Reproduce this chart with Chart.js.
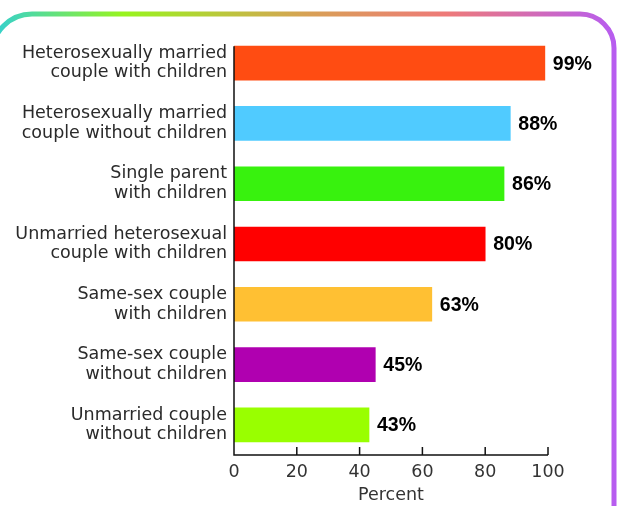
<!DOCTYPE html>
<html>
<head>
<meta charset="utf-8">
<script src="https://cdn.jsdelivr.net/npm/chart.js@4"></script>
<style>
  html, body { margin: 0; padding: 0; background: #fff; }
  #wrap { width: 618px; height: 506px; position: relative; }
</style>
</head>
<body>
<div id="wrap"><canvas id="chart" width="618" height="506"></canvas></div>
<script>
// data
let categories = [
    ['Heterosexually married', 'couple with children'],
    ['Heterosexually married', 'couple without children'],
    ['Single parent', 'with children'],
    ['Unmarried heterosexual', 'couple with children'],
    ['Same-sex couple', 'with children'],
    ['Same-sex couple', 'without children'],
    ['Unmarried couple', 'without children']
];
let percents = [99, 88, 86, 80, 63, 45, 43];
let barColors = ['#ff4c12', '#50cbff', '#38f20e', '#ff0000', '#ffc033', '#b000b0', '#99ff00'];
let xTicks = [0, 20, 40, 60, 80, 100];

const FONT = '"DejaVu Sans", "Liberation Sans", Arial, sans-serif';
const BOLD_FONT = '"Liberation Sans", Arial, sans-serif';

// gradient frame round the figure
const framePlugin = {
    id: 'frame',
    beforeDraw(chart) {
        const ctx = chart.ctx;
        const g = ctx.createLinearGradient(0, 0, 618, 0);
        g.addColorStop(0, '#38d2c8');
        g.addColorStop(0.2, '#98f41e');
        g.addColorStop(0.5, '#d8a055');
        g.addColorStop(0.72, '#ee7a78');
        g.addColorStop(1, '#b65cf2');
        ctx.save();
        ctx.strokeStyle = g;
        ctx.lineWidth = 5;
        const L = -8, T = 14, R = 614, rl = 40, rr = 34;
        ctx.beginPath();
        ctx.moveTo(L, 520);
        ctx.lineTo(L, T + rl);
        ctx.arcTo(L, T, L + rl, T, rl);
        ctx.lineTo(R - rr, T);
        ctx.arcTo(R, T, R, T + rr, rr);
        ctx.lineTo(R, 520);
        ctx.stroke();
        ctx.restore();
    }
};

// axis lines, inward ticks and value labels
const decoPlugin = {
    id: 'deco',
    afterDraw(chart) {
        const ctx = chart.ctx;
        const area = chart.chartArea;
        const xs = chart.scales.x;
        const bars = chart.getDatasetMeta(0).data;
        ctx.save();
        ctx.strokeStyle = '#111';
        ctx.lineWidth = 1.5;
        ctx.beginPath();
        ctx.moveTo(area.left, bars[0].y - bars[0].height / 2);
        ctx.lineTo(area.left, area.bottom);
        ctx.lineTo(xs.getPixelForValue(100), area.bottom);
        xTicks.forEach(function(t){
            const px = xs.getPixelForValue(t);
            ctx.moveTo(px, area.bottom);
            ctx.lineTo(px, area.bottom - 8);
        });
        ctx.stroke();

        ctx.fillStyle = '#000';
        ctx.font = 'bold 19.5px ' + BOLD_FONT;
        ctx.textAlign = 'left';
        ctx.textBaseline = 'middle';
        bars.forEach(function(b, i){
            ctx.fillText(percents[i] + '%', b.x + 8, b.y + 1);
        });
        ctx.restore();
    }
};

let ctx = document.getElementById('chart').getContext('2d');
window.chart = new Chart(ctx, {
    type: 'bar',
    data: {
        labels: categories,
        datasets: [{
            data: percents,
            backgroundColor: barColors,
            barThickness: 34
        }]
    },
    options: {
        indexAxis: 'y',
        responsive: false,
        animation: false,
        layout: { padding: { top: 33, right: 70, left: 0, bottom: 0 } },
        plugins: {
            legend: { display: false },
            tooltip: { enabled: false }
        },
        scales: {
            x: {
                min: 0, max: 100,
                afterFit: function(s){ s.height = 51; },
                afterBuildTicks: function(s){ s.ticks = xTicks.map(v => ({ value: v })); },
                grid: { display: false, drawTicks: false },
                border: { display: false },
                ticks: { color: '#333', font: { family: FONT, size: 17.5 }, padding: 7 },
                title: { display: true, text: 'Percent', color: '#333', font: { family: FONT, size: 17.5 }, padding: { top: 2, bottom: 0 } }
            },
            y: {
                afterFit: function(s){ s.width = 234; },
                grid: { display: false, drawTicks: false },
                border: { display: false },
                ticks: { color: '#2a2a2a', padding: 7, font: { family: FONT, size: 17.5, lineHeight: 1.12 } }
            }
        }
    },
    plugins: [framePlugin, decoPlugin]
});
</script>
</body>
</html>
